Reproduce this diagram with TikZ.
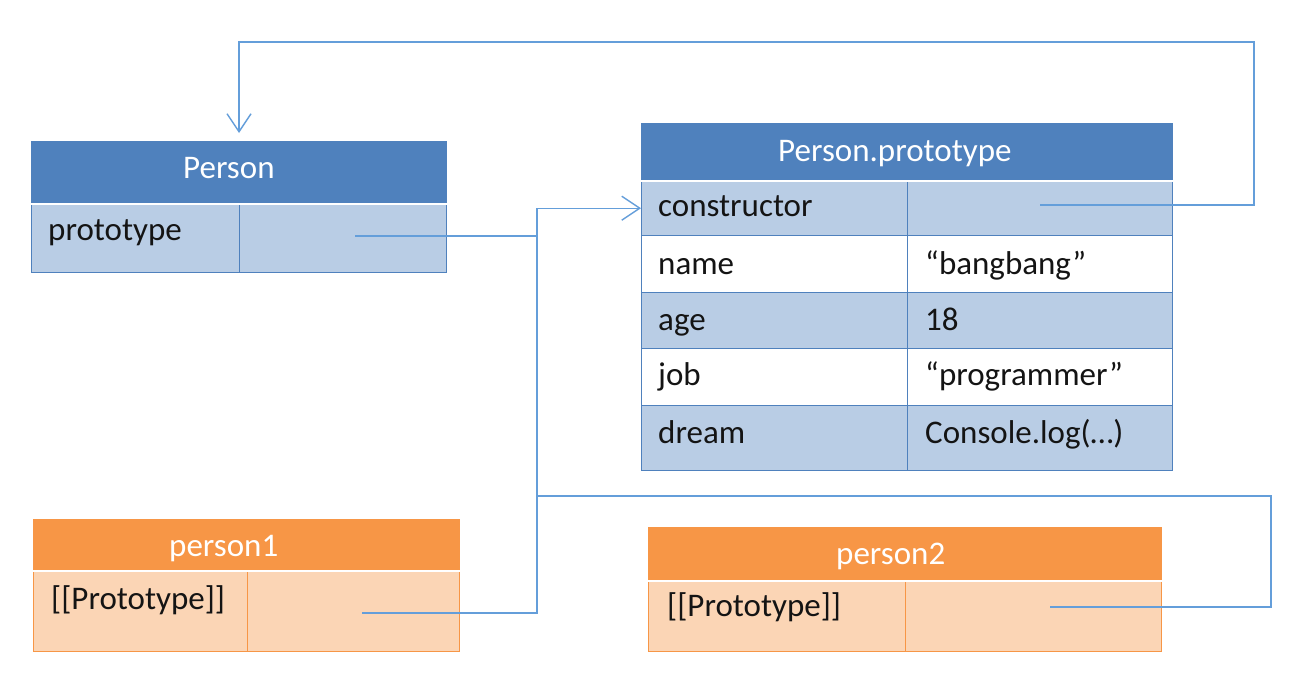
\documentclass[tikz,border=0pt]{standalone}
\usepackage{fontspec}
\setmainfont{Carlito}
\usetikzlibrary{arrows.meta,calc}
\definecolor{hblue}{RGB}{79,129,189}
\definecolor{lblue}{RGB}{185,205,229}
\definecolor{horange}{RGB}{247,150,70}
\definecolor{lorange}{RGB}{251,213,181}
\definecolor{conncol}{RGB}{100,158,218}
\definecolor{txt}{RGB}{20,20,20}
\begin{document}
\begin{tikzpicture}[x=1pt,y=-1pt,
  font=\fontsize{33}{36}\selectfont,
  sz/.style 2 args={minimum width=#1pt, minimum height=#2pt},
  hdrb/.style={anchor=north west, fill=hblue, draw=hblue, line width=1pt, inner sep=0pt},
  cellb/.style={anchor=north west, fill=lblue, draw=hblue, line width=1.4pt, inner sep=0pt},
  cellw/.style={anchor=north west, fill=white, draw=hblue, line width=1.4pt, inner sep=0pt},
  hdro/.style={anchor=north west, fill=horange, draw=horange, line width=1pt, inner sep=0pt},
  cello/.style={anchor=north west, fill=lorange, draw=horange, line width=1.4pt, inner sep=0pt},
  lbl/.style={anchor=base west, inner sep=0pt, text=txt},
  hlbl/.style={anchor=base west, inner sep=0pt, text=white},
  conn/.style={draw=conncol, line width=1.4pt},
  tip/.style={-{Straight Barb[length=18pt,width=24pt,line width=1.4pt]}},
  sep/.style={draw=white, line width=2.5pt}
]
\useasboundingbox[fill=white] (0,0) rectangle (1314,672);

% Person
\node[hdrb, sz={415}{62}] (P) at (31,141) {};
\node[cellb, sz={208}{69}] (Pk) at (31,203) {};
\node[cellb, sz={207}{69}] (Pv) at (239,203) {};
\draw[sep] (P.south west) -- (P.south east);
\node[hlbl] (Pt) at (183,178) {Person};
\node[lbl] (Pkt) at (48,240) {prototype};

% Person.prototype
\node[hdrb, sz={531}{57}] (PP) at (641,123) {};
\node[cellb, sz={266}{55}] (ck) at (641,180) {};
\node[cellb, sz={265}{55}] (cv) at (907,180) {};
\node[cellw, sz={266}{57}] (nk) at (641,235) {};
\node[cellw, sz={265}{57}] (nv) at (907,235) {};
\node[cellb, sz={266}{56}] (ak) at (641,292) {};
\node[cellb, sz={265}{56}] (av) at (907,292) {};
\node[cellw, sz={266}{57}] (jk) at (641,348) {};
\node[cellw, sz={265}{57}] (jv) at (907,348) {};
\node[cellb, sz={266}{65}] (dk) at (641,405) {};
\node[cellb, sz={265}{65}] (dv) at (907,405) {};
\draw[sep] (PP.south west) -- (PP.south east);
\node[hlbl] (PPt) at (778,161) {Person.prototype};
\node[lbl] (ckt) at (658,216) {constructor};
\node[lbl] (nkt) at (658,274) {name};
\node[lbl] (nvt) at (925,274) {“bangbang”};
\node[lbl] (akt) at (658,330) {age};
\node[lbl] (avt) at (925,330) {18};
\node[lbl] (jkt) at (658,385) {job};
\node[lbl] (jvt) at (925,385) {“programmer”};
\node[lbl] (dkt) at (658,443) {dream};
\node[lbl] (dvt) at (925,443) {Console.log(…)};

% person1
\node[hdro, sz={426}{51}] (p1) at (33,519) {};
\node[cello, sz={214}{81}] (p1k) at (33,570) {};
\node[cello, sz={212}{81}] (p1v) at (247,570) {};
\draw[sep] (p1.south west) -- (p1.south east);
\node[hlbl] (p1h) at (169,556) {person1};
\node[lbl] (p1t) at (51,609) {[[Prototype]]};

% person2
\node[hdro, sz={513}{53}] (p2) at (648,527) {};
\node[cello, sz={257}{71}] (p2k) at (648,580) {};
\node[cello, sz={256}{71}] (p2v) at (905,580) {};
\draw[sep] (p2.south west) -- (p2.south east);
\node[hlbl] (p2h) at (836,564) {person2};
\node[lbl] (p2t) at (667,616) {[[Prototype]]};

% connectors
\coordinate (jx) at ($(ck.west)+(-104,0)$);
\coordinate (s0) at (355,236);
\coordinate (s1) at (362,613);
\coordinate (s2) at (1050,607);
\coordinate (s3) at (1040,205);
\coordinate (c1) at (1254,42);
\coordinate (c2) at (1271,496);
\draw[conn,tip] (s1) -| (jx) -- (ck.west);
\draw[conn] (s0) -- (s0 -| jx);
\draw[conn] (s2) -| (c2) -- (c2 -| jx);
\draw[conn,tip,shorten >=8pt] (s3) -| (c1) -| (P.north);
\end{tikzpicture}
\end{document}
